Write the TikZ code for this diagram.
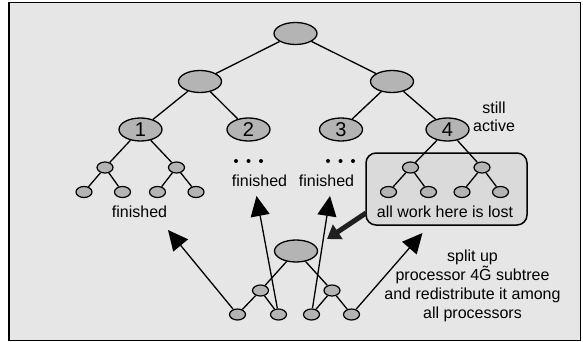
\documentclass[tikz,border=0pt]{standalone}
\usepackage{fontspec}
\setmainfont{Liberation Sans}
\usetikzlibrary{shapes.geometric,arrows.meta}
\definecolor{panel}{HTML}{E6E6E6}
\definecolor{nodegray}{HTML}{B4B4B4}
\definecolor{boxgray}{HTML}{DADADA}

\begin{document}
\begin{tikzpicture}[x=1pt,y=-1pt,
  big/.style={ellipse,draw,line width=1.3pt,fill=nodegray,
    minimum width=43pt,minimum height=22pt,inner sep=0pt},
  num/.style={big,minimum height=23pt,font=\fontsize{20}{20}\selectfont},
  leaf/.style={ellipse,draw,line width=1.2pt,fill=nodegray,
    minimum width=16pt,minimum height=11pt,inner sep=0pt},
  edge/.style={line width=1.3pt},
  lbl/.style={font=\fontsize{16}{19}\selectfont,align=center,inner sep=0pt},
  thinarrow/.style={line width=1.3pt,-{Triangle[length=20pt,width=19pt]}},
  heavyarrow/.style={draw=black!88,line width=5pt,
    -{Triangle[length=13pt,width=17pt]}},
  lostbox/.style={draw,line width=1.5pt,fill=boxgray,rounded corners=10pt,
    minimum width=161pt,minimum height=72pt,inner sep=0pt},
  dot/.style={circle,fill=black,inner sep=0pt,minimum size=4pt},
]
\useasboundingbox (0,0) rectangle (583,342);
% panel
\draw[line width=1.6pt,fill=panel] (9,2.5) rectangle (580.5,340.5);

% region whose work is lost
\node[lostbox] (lost) at (446.5,189) {};

% upper tree
\node[big] (root) at (295.5,33.5) {};
\node[big] (la) at (200,81.5) {};
\node[big] (lb) at (392,81.5) {};
\node[num] (p1) at (140.5,129.5) {1};
\node[num] (p2) at (248.5,129.5) {2};
\node[num] (p3) at (341,129.5) {3};
\node[num] (p4) at (447.5,129.5) {4};
\draw[edge] (root) -- (la);
\draw[edge] (root) -- (lb);
\draw[edge] (la) -- (p1);
\draw[edge] (la) -- (p2);
\draw[edge] (lb) -- (p3);
\draw[edge] (lb) -- (p4);

% subtree of processor 1
\node[leaf] (a) at (105,167.5) {};
\node[leaf] (b) at (176.5,167.5) {};
\node[leaf] (a1) at (84,192) {};
\node[leaf] (a2) at (122.5,192) {};
\node[leaf] (b1) at (157.5,192) {};
\node[leaf] (b2) at (196,192) {};
\draw[edge] (p1) -- (a);
\draw[edge] (p1) -- (b);
\draw[edge] (a) -- (a1);
\draw[edge] (a) -- (a2);
\draw[edge] (b) -- (b1);
\draw[edge] (b) -- (b2);

% subtree of processor 4
\node[leaf] (c) at (410.5,167.5) {};
\node[leaf] (d) at (482,167.5) {};
\node[leaf] (c1) at (388.5,192) {};
\node[leaf] (c2) at (428.5,192) {};
\node[leaf] (d1) at (462,192) {};
\node[leaf] (d2) at (500.5,192) {};
\draw[edge] (p4) -- (c);
\draw[edge] (p4) -- (d);
\draw[edge] (c) -- (c1);
\draw[edge] (c) -- (c2);
\draw[edge] (d) -- (d1);
\draw[edge] (d) -- (d2);

% elided subtrees
\foreach \i/\x in {1/236,2/248.5,3/261,4/328,5/340.5,6/353}
  \node[dot] (dot\i) at (\x,161) {};

% labels
\node[lbl,anchor=base] (f1) at (139.5,217) {finished};
\node[lbl,anchor=base] (f2) at (259.5,186) {finished};
\node[lbl,anchor=base] (f3) at (326.5,186) {finished};
\node[lbl,anchor=base] (lostlbl) at (445,217) {all work here is lost};
\node[lbl,anchor=north,font=\fontsize{16}{18}\selectfont] (active) at (494,101.5) {still\\active};
\node[lbl,anchor=north] (split) at (472.5,249.5)
  {split up\\processor 4\~{G} subtree\\and redistribute it among\\all processors};

% redistributed subtree
\node[big] (broot) at (296,251) {};
\node[leaf] (bl) at (260.5,290.5) {};
\node[leaf] (br) at (332,290.5) {};
\node[leaf] (bl1) at (237.5,314.5) {};
\node[leaf] (bl2) at (278.5,314.5) {};
\node[leaf] (br1) at (311.5,314.5) {};
\node[leaf] (br2) at (351.5,314.5) {};
\draw[edge] (broot) -- (bl);
\draw[edge] (broot) -- (br);
\draw[edge] (bl) -- (bl1);
\draw[edge] (bl) -- (bl2);
\draw[edge] (br) -- (br1);
\draw[edge] (br) -- (br2);

% arrows to the processors
\coordinate (t1) at (168,230);
\coordinate (t2) at (256.5,196);
\coordinate (t3) at (330,196);
\coordinate (t4) at (422.5,233);
\draw[thinarrow] (bl1) -- (t1);
\draw[thinarrow] (bl2) -- (t2);
\draw[thinarrow] (br1) -- (t3);
\draw[thinarrow] (br2) -- (t4);

% lost work moves to the new root
\coordinate (hs) at (366,213);
\coordinate (ht) at (327,239);
\draw[heavyarrow] (hs) -- (ht);
\end{tikzpicture}
\end{document}
